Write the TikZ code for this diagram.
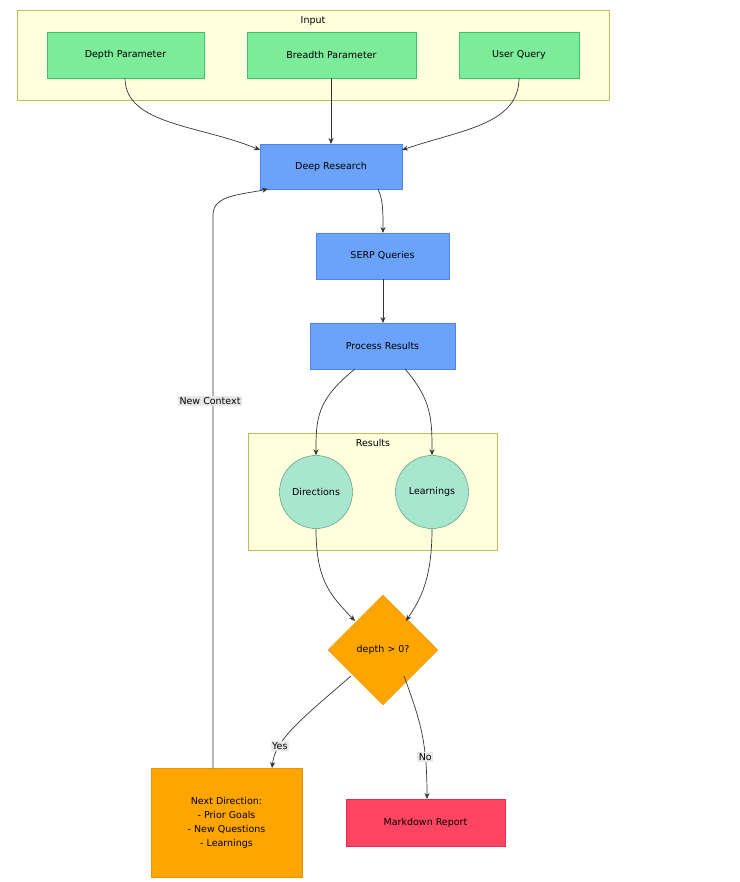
\documentclass[tikz,border=0pt]{standalone}
\usepackage{fontspec}
\setmainfont{DejaVu Sans}
\usetikzlibrary{shapes.geometric,arrows.meta}
\definecolor{grpfill}{HTML}{FFFFDE}
\definecolor{grpline}{HTML}{BDBD55}
\definecolor{gfill}{HTML}{7CEB9A}
\definecolor{gline}{HTML}{3DC46A}
\definecolor{bfill}{HTML}{6CA3FA}
\definecolor{bline}{HTML}{4A86EE}
\definecolor{cfill}{HTML}{A8E6CF}
\definecolor{cline}{HTML}{3E8C6E}
\definecolor{ofill}{HTML}{FFA500}
\definecolor{oline}{HTML}{E69500}
\definecolor{rfill}{HTML}{FF4561}
\definecolor{rline}{HTML}{E03050}
\definecolor{lbl}{HTML}{E8E8E8}
\begin{document}
\begin{tikzpicture}[x=1pt,y=-1pt,font=\fontsize{9.5}{12}\selectfont,
  grp/.style={draw=grpline,fill=grpfill},
  gbox/.style={draw=gline,fill=gfill},
  bbox/.style={draw=bline,fill=bfill},
  circ/.style={circle,draw=cline,fill=cfill,minimum size=73pt,inner sep=0pt},
  edge/.style={draw=black!80,line width=0.7pt,-{Stealth[length=6pt,width=5pt]}},
  el/.style={fill=lbl,inner sep=1.5pt}]
\useasboundingbox (0,0) rectangle (739,882);
\draw[grp] (17,10) rectangle (609,100);
\node (tin) at (313,21) {Input};
\draw[grp] (248,433) rectangle (497,550);
\node (tres) at (373,443) {Results};
\draw[gbox] (47,32) rectangle (204,78); \node (dp) at (125.5,55) {Depth Parameter};
\draw[gbox] (247,32) rectangle (416,78); \node (bp) at (331.5,55) {Breadth Parameter};
\draw[gbox] (459,32) rectangle (579,78); \node (uq) at (519,55) {User Query};
\draw[bbox] (260,144) rectangle (402,189); \node (dr) at (331,166.5) {Deep Research};
\draw[bbox] (316,233) rectangle (449,279); \node (sq) at (382.5,256) {SERP Queries};
\draw[bbox] (310,323) rectangle (455,369); \node (pr) at (382.5,346) {Process Results};
\node[circ] (di) at (316,492) {Directions};
\node[circ] (le) at (432,492) {Learnings};
\node[diamond,draw=oline,fill=ofill,minimum width=110pt,minimum height=110pt,inner sep=0pt] (dq) at (383,650) {depth > 0?};
\draw[draw=oline,fill=ofill] (151,768) rectangle (302,877);
\node[align=center] (nd) at (226.5,822.5) {Next Direction:\\[2pt] - Prior Goals\\[2pt] - New Questions\\[2pt] - Learnings};
\draw[draw=rline,fill=rfill] (346,799) rectangle (505,846); \node (mr) at (425.5,822.5) {Markdown Report};
\coordinate (dpb) at (125,78); \coordinate (drl) at (260,150);
\coordinate (bpb) at (331,78); \coordinate (drt) at (331,144);
\coordinate (uqb) at (519,78); \coordinate (drr) at (402,150);
\coordinate (drb) at (378,189); \coordinate (sqt) at (383,233);
\coordinate (sqb) at (383,279); \coordinate (prt) at (383,323);
\coordinate (prb1) at (355,369); \coordinate (prb2) at (405,369);
\coordinate (dqa) at (355,621); \coordinate (dqb) at (406,621);
\coordinate (dqc) at (351,676); \coordinate (dqd) at (404,676);
\coordinate (ndt) at (272,768); \coordinate (mrt) at (427,799);
\coordinate (ndt2) at (213,768); \coordinate (drbl) at (268,189);
\draw[edge] (dpb) .. controls (125,125) and (200,125) .. (drl);
\draw[edge] (bpb) -- (drt);
\draw[edge] (uqb) .. controls (519,125) and (460,130) .. (drr);
\draw[edge] (drb) .. controls (383,200) and (383,210) .. (sqt);
\draw[edge] (sqb) -- (prt);
\draw[edge] (prb1) .. controls (316,400) and (316,420) .. (di.north);
\draw[edge] (prb2) .. controls (432,400) and (432,420) .. (le.north);
\draw[edge] (di.south) .. controls (316,580) and (330,595) .. (dqa);
\draw[edge] (le.south) .. controls (432,580) and (420,600) .. (dqb);
\draw[edge] (dqc) .. controls (300,720) and (275,740) .. node[el,pos=0.72]{Yes} (ndt);
\draw[edge] (dqd) .. controls (420,720) and (427,740) .. node[el,pos=0.72]{No} (mrt);
\draw[edge] (ndt2) -- (213,215) .. controls (213,195) and (240,195) .. (drbl);
\node[el] (nc) at (210,401) {New Context};
\end{tikzpicture}
\end{document}
